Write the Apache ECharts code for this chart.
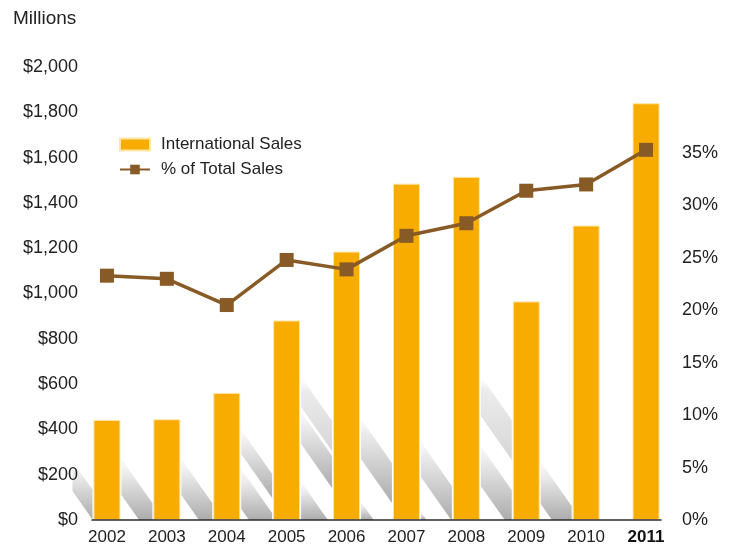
<!DOCTYPE html>
<html><head><meta charset="utf-8">
<script src="https://cdn.jsdelivr.net/npm/echarts@6/dist/echarts.min.js"></script>
<style>html,body{margin:0;padding:0;background:#fff}#c{width:731px;height:546px}</style>
</head><body><div id="c"></div>
<script>
const years = ['2002','2003','2004','2005','2006','2007','2008','2009','2010','2011'];
const intlSales = [442, 445, 561, 881, 1185, 1485, 1515, 965, 1300, 1840];
const pctTotal = [23.3, 23.0, 20.5, 24.8, 23.9, 27.1, 28.3, 31.4, 32.0, 35.3];
const leftTicks = ['$0','$200','$400','$600','$800','$1,000','$1,200','$1,400','$1,600','$1,800','$2,000'];
const rightTicks = ['0%','5%','10%','15%','20%','25%','30%','35%'];

// decorative diagonal shadow stripes (style only): per gap [top offset above axis at gap's left edge, thickness]
const stripeGaps = [
  [[-59, 30]],
  [[-61, 36]],
  [[-61, 36]],
  [[-90, 24], [-51, 40]],
  [[-143, 30], [-108, 32], [-38, 40]],
  [[-101, 40], [-18, 30]],
  [[-78, 35], [-8, 20]],
  [[-144, 40], [-74, 40]],
  [[-58, 42]],
  []
];

const FONT = '"Liberation Sans", Arial, sans-serif';
const BAR = '#F8AC00';
const LINE = '#875A26';
const chart = echarts.init(document.getElementById('c'));
chart.setOption({
  animation: false,
  textStyle: {fontFamily: FONT},
  grid: {left: 77, right: 55, top: 67, bottom: 25, containLabel: false},
  legend: {
    left: 119, top: 136, padding: 0, orient: 'vertical', itemGap: 8, itemWidth: 30, itemHeight: 12,
    textStyle: {fontFamily: FONT, fontSize: 17, color: '#222', padding: [0, 0, 0, 6]},
    data: [{name: 'International Sales', icon: 'rect'}, {name: '% of Total Sales'}]
  },
  xAxis: {
    type: 'category', data: years,
    axisLine: {show: false},
    axisTick: {show: false},
    axisLabel: {fontSize: 17, color: '#222', margin: 9, interval: 0,
      formatter: v => v === '2011' ? '{b|' + v + '}' : v,
      rich: {b: {fontWeight: 'bold', fontSize: 17, fontFamily: FONT, color: '#111'}}}
  },
  yAxis: [{
    type: 'value', min: 0, max: 2000, interval: 200,
    splitLine: {show: false}, axisLine: {show: false}, axisTick: {show: false},
    axisLabel: {fontSize: 18, color: '#222', margin: -1, formatter: v => leftTicks[v / 200] || ''}
  }, {
    type: 'value', min: 0, max: 43.2, interval: 5,
    splitLine: {show: false}, axisLine: {show: false}, axisTick: {show: false},
    axisLabel: {fontSize: 18, color: '#222', margin: 6, showMaxLabel: false,
      formatter: v => (v <= 35 ? rightTicks[Math.round(v / 5)] : '')}
  }],
  series: [{
    name: 'International Sales', type: 'bar', data: intlSales, barWidth: 27, z: 3,
    itemStyle: {color: BAR, borderColor: '#FFE6A8', borderWidth: 1}
  }, {
    name: '% of Total Sales', type: 'line', yAxisIndex: 1, data: pctTotal, z: 5,
    symbol: 'rect', symbolSize: 14, lineStyle: {color: LINE, width: 3.5},
    itemStyle: {color: LINE}
  }]
});

// decorations built from the axis pixel positions
function clipBelow(pts, yMax) {
  const out = [];
  for (let i = 0; i < pts.length; i++) {
    const a = pts[i], b = pts[(i + 1) % pts.length];
    const ain = a[1] <= yMax, bin = b[1] <= yMax;
    if (ain) out.push(a);
    if (ain !== bin) {
      const t = (yMax - a[1]) / (b[1] - a[1]);
      out.push([a[0] + t * (b[0] - a[0]), yMax]);
    }
  }
  return out;
}
const cx = years.map((y, i) => chart.convertToPixel({xAxisIndex: 0}, i));
const y0 = chart.convertToPixel({yAxisIndex: 0}, 0);
const half = 14.5, slope = 1.42;
const elems = [];
stripeGaps.forEach((bands, g) => {
  const xL = g === 0 ? cx[0] - half - 20 : cx[g - 1] + half;
  const xR = g === 0 ? cx[0] - half : cx[g] - half;
  const w = xR - xL;
  bands.forEach(([off, th]) => {
    const yT = y0 + off;
    const yB = Math.min(yT + slope * w + th, y0);
    const span = Math.max(yB - yT, 1);
    const top = off < -120 ? 'rgba(245,245,245,0)' : 'rgba(242,242,242,0.4)';
    const grad = {type: 'linear', x: 0, y: yT, x2: 0, y2: yB, global: true,
      colorStops: [{offset: 0, color: top}, {offset: Math.min(0.25, 14 / span), color: '#ececec'},
                   {offset: 1, color: off < -120 ? '#d6d6d6' : '#acacac'}]};
    let pts = [[xL, yT], [xR, yT + slope * w], [xR, yT + slope * w + th], [xL, yT + th]];
    pts = clipBelow(pts, y0);
    if (pts.length >= 3) elems.push({type: 'polygon', z: 0, silent: true, shape: {points: pts}, style: {fill: grad}});
  });
});
const x0 = cx[0] - half - 1, x1 = cx[cx.length - 1] + half + 1;
elems.push({type: 'line', z: 10, silent: true, shape: {x1: x0, y1: y0, x2: x1, y2: y0}, style: {stroke: '#2a2a2a', lineWidth: 1.5}});
elems.push({type: 'text', left: 13, top: 9, style: {text: 'Millions', font: '19px ' + FONT, fill: '#222'}});
chart.setOption({graphic: elems});
</script></body></html>
